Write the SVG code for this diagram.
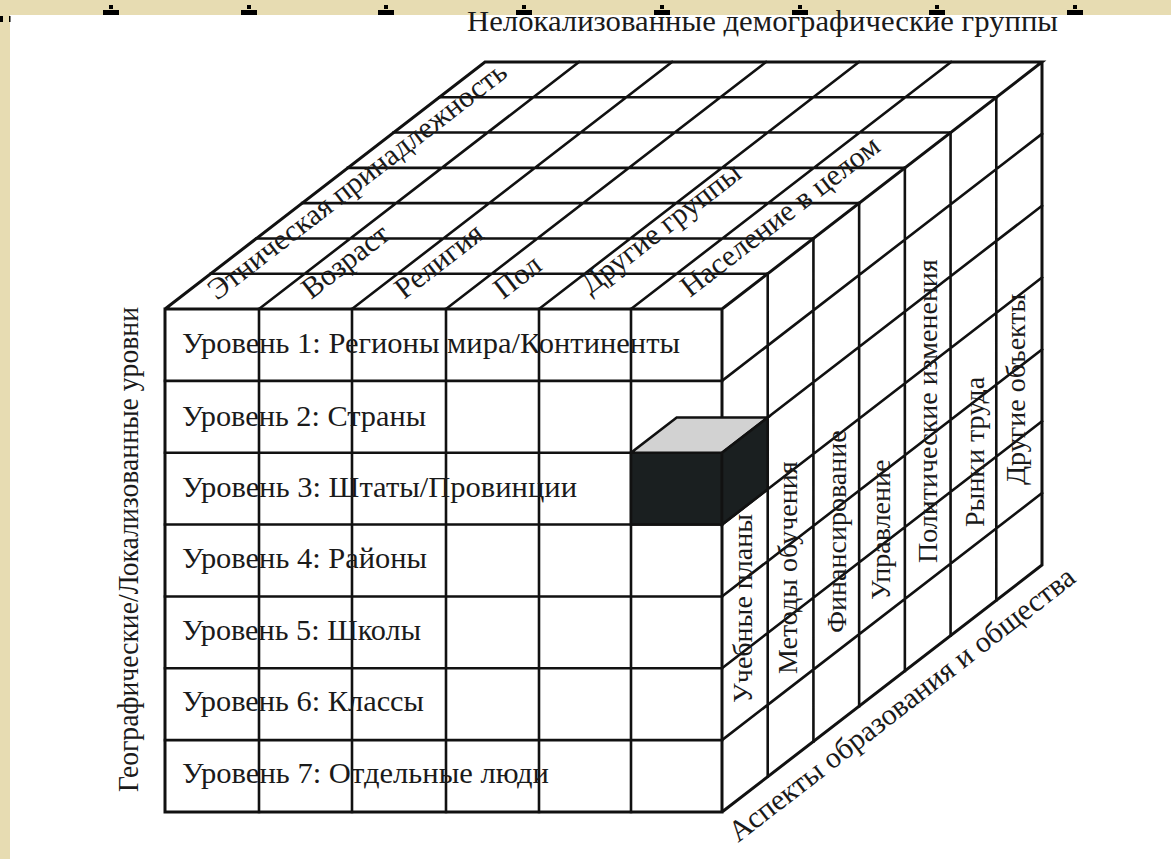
<svg xmlns="http://www.w3.org/2000/svg" width="1171" height="859" viewBox="0 0 1171 859">
<style>
.bg{fill:#e7dcb2}
.mk{fill:#000}
.g{fill:none;stroke:#111;stroke-width:2.6;stroke-linecap:square;stroke-linejoin:miter}
.o{fill:none;stroke:#111;stroke-width:3;stroke-linejoin:miter}
.t{font-family:"Liberation Serif","Times New Roman",serif;font-size:29px;fill:#1a1a1a}
.r{font-family:"Liberation Serif","Times New Roman",serif;font-size:28px;fill:#1a1a1a}
.d{font-family:"Liberation Serif","Times New Roman",serif;font-size:30px;fill:#1a1a1a}
</style>
<defs>
<g id="mark"><rect x="-2" y="5" width="4" height="4"/><rect x="-8" y="10" width="16" height="5"/></g>
</defs>
<g id="frame">
<rect class="bg" x="0" y="0" width="1171" height="859"/>
<rect x="10" y="15" width="1161" height="844" fill="#fff"/>
<g class="mk">
<use href="#mark" x="111" y="0"/><use href="#mark" x="249" y="0"/><use href="#mark" x="386" y="0"/><use href="#mark" x="524" y="0"/>
<use href="#mark" x="662" y="0"/><use href="#mark" x="800" y="0"/><use href="#mark" x="937" y="0"/><use href="#mark" x="1075" y="0"/>
<rect x="0" y="16" width="3" height="6"/><rect x="9" y="16" width="1.5" height="6"/>
</g>
</g>
<g id="cube">
<g id="front-face">
<path class="g" d="M259,309V812M352,309V812M446,309V812M539,309V812M631,309V812
M165,380.86H722M165,452.71H722M165,524.57H722M165,596.43H722M165,668.29H722M165,740.14H722"/>
</g>
<g id="top-face">
<path class="g" d="M210.71,273.71H767.71M256.43,238.43H813.43M302.14,203.14H859.14M347.86,167.86H904.86M393.57,132.57H950.57M439.29,97.29H996.29
M259,309L579,62M352,309L672,62M446,309L766,62M539,309L859,62M631,309L951,62"/>
</g>
<g id="right-face">
<path class="g" d="M767.71,273.71V776.71M813.43,238.43V741.43M859.14,203.14V706.14M904.86,167.86V670.86M950.57,132.57V635.57M996.29,97.29V600.29
M722,380.86L1042,133.86M722,452.71L1042,205.71M722,524.57L1042,277.57M722,596.43L1042,349.43M722,668.29L1042,421.29M722,740.14L1042,493.14"/>
</g>
<g id="outline">
<path class="o" d="M165,309H722V812H165Z M165,309L485,62H1042L722,309 M1042,62V565L722,812"/>
</g>
<g id="highlight-cell">
<path d="M631,452.71H722V524.57H631Z" fill="#1a1f20" stroke="#111" stroke-width="2.6"/>
<path d="M631,452.71H722L767.71,417.43H676.71Z" fill="#d2d2d2" stroke="#111" stroke-width="2.6" stroke-linejoin="miter"/>
<path d="M722,452.71L767.71,417.43V489.29L722,524.57Z" fill="#1a1f20" stroke="#111" stroke-width="2.6"/>
</g>
</g>
<g id="title">
<text class="t" x="467" y="31" textLength="591" lengthAdjust="spacingAndGlyphs">Нелокализованные демографические группы</text>
</g>
<g id="axis-left">
<text class="t" transform="translate(138,792) rotate(-90)" textLength="485" lengthAdjust="spacingAndGlyphs">Географические/Локализованные уровни</text>
</g>
<g id="axis-bottom">
<text class="d" transform="translate(738,843) rotate(-37.67)">Аспекты образования и общества</text>
</g>
<g id="levels">
<text class="t" x="182" y="353" textLength="498" lengthAdjust="spacingAndGlyphs">Уровень 1: Регионы мира/Континенты</text>
<text class="t" x="182" y="426" textLength="244" lengthAdjust="spacingAndGlyphs">Уровень 2: Страны</text>
<text class="t" x="182" y="497" textLength="395" lengthAdjust="spacingAndGlyphs">Уровень 3: Штаты/Провинции</text>
<text class="t" x="182" y="568" textLength="245" lengthAdjust="spacingAndGlyphs">Уровень 4: Районы</text>
<text class="t" x="182" y="640" textLength="239" lengthAdjust="spacingAndGlyphs">Уровень 5: Школы</text>
<text class="t" x="182" y="711" textLength="242" lengthAdjust="spacingAndGlyphs">Уровень 6: Классы</text>
<text class="t" x="182" y="783" textLength="367" lengthAdjust="spacingAndGlyphs">Уровень 7: Отдельные люди</text>
</g>
<g id="groups">
<text class="d" transform="translate(217,301) rotate(-37.67)">Этническая принадлежность</text>
<text class="d" transform="translate(311,300) rotate(-37.67)">Возраст</text>
<text class="d" transform="translate(404,300) rotate(-37.67)">Религия</text>
<text class="d" transform="translate(503,300) rotate(-37.67)">Пол</text>
<text class="d" transform="translate(590,295) rotate(-37.67)">Другие группы</text>
<text class="d" transform="translate(690,298) rotate(-37.67)">Население в целом</text>
</g>
<g id="aspects">
<text class="r" transform="translate(752,703) rotate(-90)">Учебные планы</text>
<text class="r" transform="translate(797,674) rotate(-90)">Методы обучения</text>
<text class="r" transform="translate(846,633) rotate(-90)">Финансирование</text>
<text class="r" transform="translate(890,600) rotate(-90)">Управление</text>
<text class="r" transform="translate(937,563) rotate(-90)">Политические изменения</text>
<text class="r" transform="translate(984,527) rotate(-90)">Рынки труда</text>
<text class="r" transform="translate(1025,485) rotate(-90)">Другие объекты</text>
</g>
</svg>
